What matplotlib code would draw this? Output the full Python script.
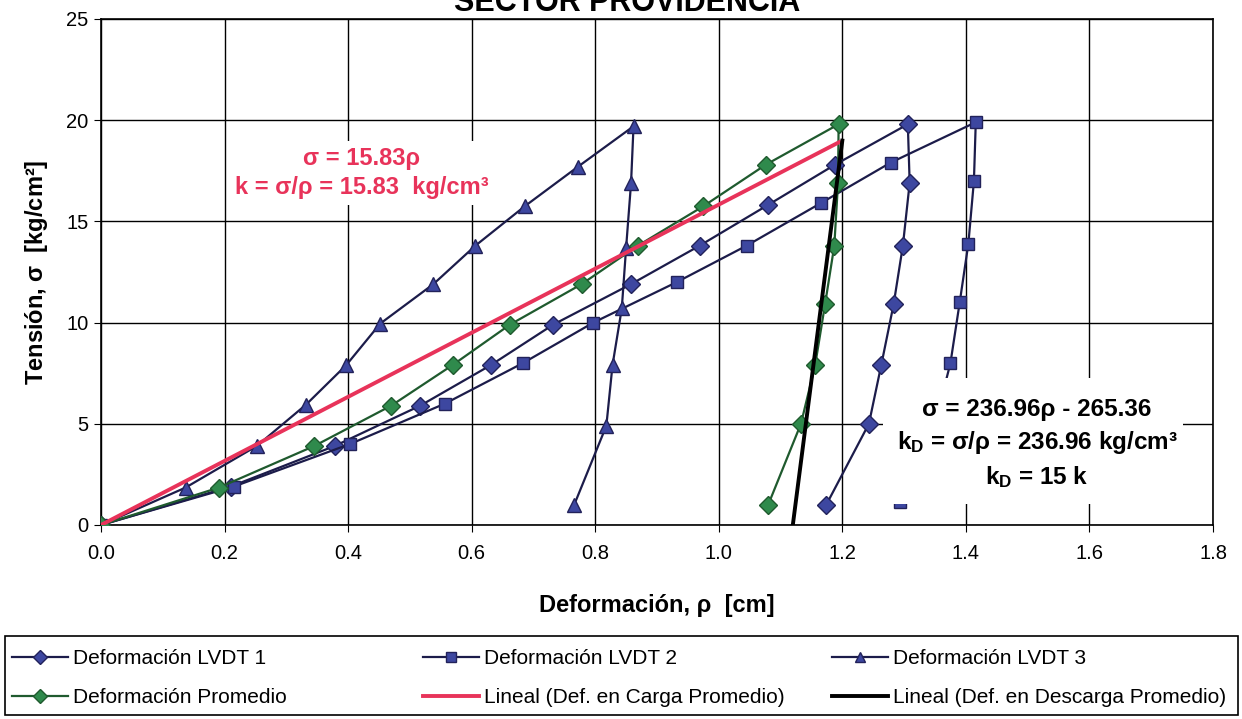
import matplotlib
matplotlib.use("Agg")
import matplotlib.pyplot as plt
from matplotlib.patches import Rectangle
import numpy as np

plt.rcParams['font.family'] = ['Liberation Sans', 'DejaVu Sans']
plt.rcParams['mathtext.fontset'] = 'custom'
plt.rcParams['mathtext.rm'] = 'Liberation Sans'
plt.rcParams['mathtext.bf'] = 'Liberation Sans:bold'
plt.rcParams['mathtext.it'] = 'Liberation Sans:italic'

# ---- data ----
lvdt1_x = [0.0, 0.21, 0.378, 0.517, 0.631, 0.732, 0.858, 0.969, 1.079, 1.188, 1.306,
           1.309, 1.298, 1.283, 1.263, 1.243, 1.174]
lvdt1_y = [0.0, 1.9, 3.9, 5.9, 7.9, 9.9, 11.9, 13.8, 15.8, 17.8, 19.8,
           16.9, 13.8, 10.9, 7.9, 5.0, 1.0]

lvdt2_x = [0.0, 0.215, 0.403, 0.557, 0.683, 0.797, 0.932, 1.045, 1.165, 1.278, 1.416,
           1.413, 1.404, 1.390, 1.375, 1.350, 1.293]
lvdt2_y = [0.0, 1.9, 4.0, 6.0, 8.0, 10.0, 12.0, 13.8, 15.9, 17.9, 19.9,
           17.0, 13.9, 11.0, 8.0, 5.0, 1.15]

lvdt3_x = [0.0, 0.137, 0.252, 0.332, 0.397, 0.452, 0.538, 0.606, 0.686, 0.772, 0.862,
           0.858, 0.850, 0.843, 0.828, 0.818, 0.766]
lvdt3_y = [0.0, 1.85, 3.9, 5.95, 7.9, 9.95, 11.9, 13.8, 15.75, 17.7, 19.7,
           16.9, 13.7, 10.7, 7.9, 4.9, 1.0]

prom_x = [0.0, 0.191, 0.345, 0.470, 0.569, 0.662, 0.778, 0.869, 0.975, 1.076, 1.194,
          1.193, 1.187, 1.172, 1.156, 1.133, 1.080]
prom_y = [0.0, 1.85, 3.9, 5.9, 7.9, 9.9, 11.9, 13.8, 15.75, 17.8, 19.8,
          16.9, 13.8, 10.9, 7.9, 5.0, 1.0]

k_load = 15.83
kd_slope = 236.96
kd_inter = -265.36
load_range = [0.0, 1.195]
unload_range = [1.1199, 1.2]

xticks = [0.0, 0.2, 0.4, 0.6, 0.8, 1.0, 1.2, 1.4, 1.6, 1.8]
yticks = [0, 5, 10, 15, 20, 25]

W, H = 1242, 719
fig = plt.figure(figsize=(W / 100, H / 100), dpi=100)
ax = fig.add_axes([101 / W, 1 - 525 / H, (1213 - 101) / W, (525 - 19) / H])

navy_line = '#1c1c4a'
navy_face = '#3d47a0'
navy_edge = '#22225a'
green_line = '#1f5a2e'
green_face = '#2f8a4c'
red = '#e8335a'

h1, = ax.plot(lvdt1_x, lvdt1_y, color=navy_line, lw=1.6, marker='D', ms=9,
              mfc=navy_face, mec=navy_edge, label='Deformación LVDT 1', zorder=3)
h2, = ax.plot(lvdt2_x, lvdt2_y, color=navy_line, lw=1.6, marker='s', ms=8.5,
              mfc=navy_face, mec=navy_edge, label='Deformación LVDT 2', zorder=3)
h3, = ax.plot(lvdt3_x, lvdt3_y, color=navy_line, lw=1.6, marker='^', ms=9.5,
              mfc=navy_face, mec=navy_edge, label='Deformación LVDT 3', zorder=3)
h4, = ax.plot(prom_x, prom_y, color=green_line, lw=1.6, marker='D', ms=9,
              mfc=green_face, mec=green_line, label='Deformación Promedio', zorder=3)

xl = np.array(load_range)
h5, = ax.plot(xl, k_load * xl, color=red, lw=2.8,
              label='Lineal (Def. en Carga Promedio)', zorder=4)
xu = np.array(unload_range)
h6, = ax.plot(xu, kd_slope * xu + kd_inter, color='black', lw=2.8,
              label='Lineal (Def. en Descarga Promedio)', zorder=4)

ax.set_xlim(0, 1.8)
ax.set_ylim(0, 25)
ax.set_xticks(xticks)
ax.set_xticklabels([f"{v:.1f}" for v in xticks])
ax.set_yticks(yticks)
ax.grid(True, color='black', lw=1.0)
ax.set_axisbelow(True)
for s in ax.spines.values():
    s.set_color('black')
    s.set_linewidth(1.2)
ax.tick_params(axis='both', labelsize=14.5, direction='out', length=5, color='black')
ax.tick_params(axis='x', pad=9)
ax.tick_params(axis='y', pad=4)

ax.set_xlabel('Deformación, ρ  [cm]', fontsize=17, fontweight='bold', labelpad=22)
ax.set_ylabel(r'Tensión, $\mathbf{\sigma}$  [kg/cm²]', fontsize=17, fontweight='bold',
              labelpad=12)

# red annotation
ax.text(0.4225, 17.4, 'σ = 15.83ρ\nk = σ/ρ = 15.83  kg/cm³', color=red, fontsize=17,
        fontweight='bold', ha='center', va='center', linespacing=1.35,
        bbox=dict(facecolor='white', edgecolor='none', pad=4), zorder=5)

# black annotation on white background
ax.add_patch(Rectangle((1.266, 1.04), 0.485, 6.22, facecolor='white', edgecolor='none',
                       zorder=4.5))
ax.text(1.515, 4.0, 'σ = 236.96ρ - 265.36\nk$_\\mathbf{D}$ = σ/ρ = 236.96 kg/cm³\nk$_\\mathbf{D}$ = 15 k',
        color='black', fontsize=17.5, fontweight='bold', ha='center', va='center',
        linespacing=1.4, zorder=5)

fig.text(627 / W, 1.0 - 3 / H, 'SECTOR PROVIDENCIA', fontsize=22, fontweight='bold',
         ha='center', va='center')

# legend: frame + three equally spaced columns
fig.add_artist(Rectangle((5 / W, 1 - 715 / H), 1233 / W, 79 / H, transform=fig.transFigure,
                         facecolor='white', edgecolor='black', lw=1.2, zorder=1))
cols = [(12, [h1, h4]), (423, [h2, h5]), (832, [h3, h6])]
for xpx, hs in cols:
    leg = fig.legend(handles=hs, loc='upper left',
                     bbox_to_anchor=(xpx / W, 1 - 649 / H), borderaxespad=0,
                     borderpad=0, frameon=False, fontsize=15, handlelength=2.7,
                     handletextpad=0.25, labelspacing=0.95, markerscale=0.8)
    leg.set_zorder(2)

fig.savefig('out.png', dpi=100, facecolor='white')
